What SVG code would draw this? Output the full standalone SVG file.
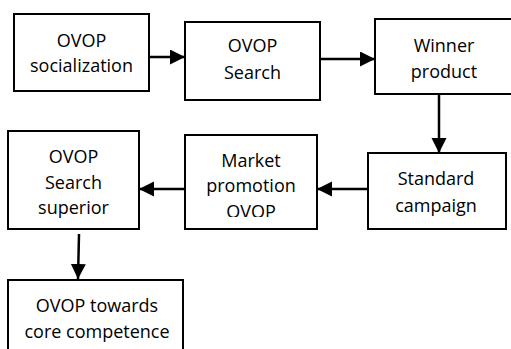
<svg xmlns="http://www.w3.org/2000/svg" width="511" height="349" viewBox="0 0 511 349">
<style>
.box{fill:#fff;stroke:#000;stroke-width:2}
.t{font-family:"Open Sans","Noto Sans","Liberation Sans",sans-serif;font-size:18px;fill:#000;text-anchor:middle}
.c{stroke:#000;stroke-width:2.5;fill:none}
</style>
<defs>
<marker id="ah" markerUnits="userSpaceOnUse" markerWidth="16" markerHeight="16" refX="15" refY="7.5" orient="auto">
<path d="M0,0 L15,7.5 L0,15 Z" fill="#000"/>
</marker>
<clipPath id="mclip"><rect x="185" y="135" width="132" height="82"/></clipPath>
</defs>
<g id="connectors">
<line class="c" x1="149" y1="57" x2="185" y2="57" marker-end="url(#ah)"/>
<line class="c" x1="320" y1="59" x2="375" y2="59" marker-end="url(#ah)"/>
<line class="c" x1="439" y1="94" x2="439" y2="153" marker-end="url(#ah)"/>
<line class="c" x1="368" y1="189" x2="317" y2="189" marker-end="url(#ah)"/>
<line class="c" x1="185" y1="189" x2="139" y2="189" marker-end="url(#ah)"/>
<line class="c" x1="79" y1="234" x2="78" y2="279" marker-end="url(#ah)"/>
</g>
<g id="n1"><rect class="box" x="14" y="14" width="135" height="77"/>
<text class="t" x="81.5" y="47">OVOP</text><text class="t" x="81.5" y="72">socialization</text></g>
<g id="n2"><rect class="box" x="185" y="22" width="135" height="78"/>
<text class="t" x="252.5" y="52">OVOP</text><text class="t" x="252.5" y="79">Search</text></g>
<g id="n3"><rect class="box" x="375" y="19" width="140" height="75"/>
<text class="t" x="444" y="52">Winner</text><text class="t" x="444" y="78">product</text></g>
<g id="n4"><rect class="box" x="368" y="153" width="138" height="76"/>
<text class="t" x="436" y="185">Standard</text><text class="t" x="436" y="212">campaign</text></g>
<g id="n5"><rect class="box" x="185" y="135" width="132" height="94"/>
<g clip-path="url(#mclip)"><text class="t" x="251" y="167">Market</text><text class="t" x="251" y="192">promotion</text><text class="t" x="251" y="218">OVOP</text></g></g>
<g id="n6"><rect class="box" x="8" y="131" width="131" height="98"/>
<text class="t" x="73.5" y="163">OVOP</text><text class="t" x="73.5" y="189">Search</text><text class="t" x="73.5" y="214">superior</text></g>
<g id="n7"><rect class="box" x="8" y="280" width="175" height="75"/>
<text class="t" x="97" y="312">OVOP towards</text><text class="t" x="97" y="338">core competence</text></g>
</svg>
